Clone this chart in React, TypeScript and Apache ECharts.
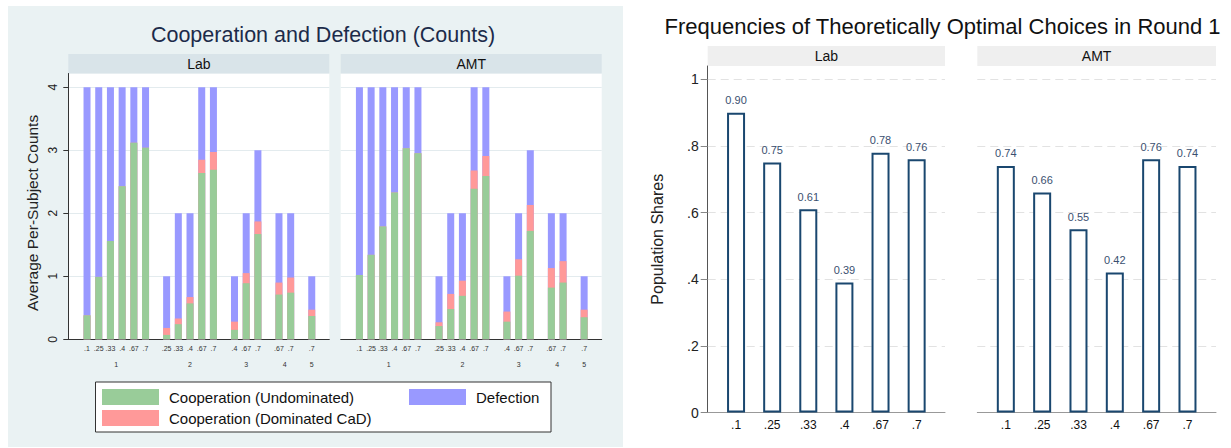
import React, { useEffect, useRef } from 'react';
import * as echarts from 'echarts';

// ---------- data: left chart (counts) ----------
const panelNames = ['Lab', 'AMT'];
const groupNames = ['1', '2', '3', '4', '5'];
const barGroups = [1, 1, 1, 1, 1, 1, 2, 2, 2, 2, 2, 3, 3, 3, 4, 4, 5];
const barLabels = ['.1', '.25', '.33', '.4', '.67', '.7', '.25', '.33', '.4', '.67', '.7', '.4', '.67', '.7', '.67', '.7', '.7'];

const labUndominated = [0.38, 0.99, 1.56, 2.43, 3.12, 3.04, 0.07, 0.24, 0.57, 2.64, 2.69, 0.15, 0.89, 1.67, 0.71, 0.74, 0.37];
const labDominated = [0, 0, 0, 0, 0, 0, 0.11, 0.09, 0.10, 0.21, 0.28, 0.13, 0.16, 0.20, 0.19, 0.24, 0.10];
const labDefection = [3.62, 3.01, 2.44, 1.57, 0.88, 0.96, 0.82, 1.67, 1.33, 1.15, 1.03, 0.72, 0.95, 1.13, 1.10, 1.02, 0.53];

const amtUndominated = [1.02, 1.34, 1.79, 2.33, 3.03, 2.95, 0.21, 0.48, 0.69, 2.39, 2.59, 0.28, 1.01, 1.72, 0.82, 0.90, 0.35];
const amtDominated = [0, 0, 0, 0, 0, 0, 0.06, 0.24, 0.24, 0.29, 0.32, 0.16, 0.26, 0.41, 0.31, 0.34, 0.12];
const amtDefection = [2.98, 2.66, 2.21, 1.67, 0.97, 1.05, 0.73, 1.28, 1.07, 1.32, 1.09, 0.56, 0.73, 0.87, 0.87, 0.76, 0.53];

const countTicks = [0, 1, 2, 3, 4];

// ---------- data: right chart (shares) ----------
const optimalCategories = ['.1', '.25', '.33', '.4', '.67', '.7'];
const labOptimalShares = [0.90, 0.75, 0.61, 0.39, 0.78, 0.76];
const amtOptimalShares = [0.74, 0.66, 0.55, 0.42, 0.76, 0.74];
const shareTicks = [0, 0.2, 0.4, 0.6, 0.8, 1];

const SERIES_UNDOM = 'Cooperation (Undominated)';
const SERIES_DOM = 'Cooperation (Dominated CaD)';
const SERIES_DEF = 'Defection';

const FONT = 'Liberation Sans, Arial, Helvetica, sans-serif';

function buildOption() {
  const groupGap = 0.8;
  const positions = barGroups.map((g, i) => Math.round((i + (g - 1) * groupGap) * 100) / 100);
  const groupCenters = groupNames.map((_, gi) => {
    const ps = positions.filter((_, i) => barGroups[i] === gi + 1);
    return Math.round(((ps[0] + ps[ps.length - 1]) / 2) * 100) / 100;
  });
  const labelAt = (v: number) => {
    const i = positions.findIndex((p) => Math.abs(p - v) < 1e-3);
    return i >= 0 ? barLabels[i] : '';
  };
  const groupAt = (v: number) => {
    const i = groupCenters.findIndex((p) => Math.abs(p - v) < 1e-3);
    return i >= 0 ? groupNames[i] : '';
  };

  const leftPanels = [
    { undom: labUndominated, dom: labDominated, def: labDefection, left: 68.3 },
    { undom: amtUndominated, dom: amtDominated, def: amtDefection, left: 340.7 },
  ];
  const rightPanels = [
    { shares: labOptimalShares, left: 707.7, width: 237.3 },
    { shares: amtOptimalShares, left: 977.3, width: 238.7 },
  ];

  const grid: any[] = [];
  const xAxis: any[] = [];
  const yAxis: any[] = [];
  const series: any[] = [];
  const graphic: any[] = [];

  graphic.push({
    type: 'rect', z: -100, silent: true,
    shape: { x: 8, y: 6, width: 615, height: 441 },
    style: { fill: '#eaf2f3' },
  });
  graphic.push({
    type: 'text', x: 323, y: 34.5, silent: true,
    style: { text: 'Cooperation and Defection (Counts)', fontSize: 21.5, fontFamily: FONT, fill: '#1c2b4a', align: 'center', verticalAlign: 'middle' },
  });
  graphic.push({
    type: 'text', x: 664.6, y: 26.7, silent: true,
    style: { text: 'Frequencies of Theoretically Optimal Choices in Round 1', fontSize: 22, fontFamily: FONT, fill: '#111', align: 'left', verticalAlign: 'middle' },
  });
  graphic.push({
    type: 'rect', silent: true, z: 1,
    shape: { x: 95.5, y: 382, width: 455.5, height: 50 },
    style: { fill: '#ffffff', stroke: '#333333', lineWidth: 1 },
  });

  leftPanels.forEach((p, k) => {
    const gi = grid.length;
    grid.push({ left: p.left, top: 73.5, width: 261, height: 265.8, show: true, backgroundColor: '#ffffff', borderWidth: 0, outerBoundsMode: 'none' });
    graphic.push({ type: 'rect', silent: true, shape: { x: p.left, y: 54, width: 261, height: 19.5 }, style: { fill: '#d9e4e9' } });
    graphic.push({ type: 'text', silent: true, x: p.left + 130.5, y: 64, style: { text: panelNames[k], fontSize: 14, fontFamily: FONT, fill: '#111', align: 'center', verticalAlign: 'middle' } });

    const xi = xAxis.length;
    xAxis.push({
      type: 'value', gridIndex: gi, position: 'bottom', min: -1.6, max: 20.7,
      axisLine: { show: true, onZero: false, lineStyle: { color: '#333', width: 1 } },
      axisTick: { show: false },
      splitLine: { show: false },
      axisLabel: { customValues: positions, formatter: (v: number) => labelAt(v), fontSize: 7, color: '#333', margin: 6, fontFamily: FONT },
    });
    xAxis.push({
      type: 'value', gridIndex: gi, position: 'bottom', min: -1.6, max: 20.7,
      axisLine: { show: false, onZero: false }, axisTick: { show: false }, splitLine: { show: false },
      axisLabel: { customValues: groupCenters, formatter: (v: number) => groupAt(v), fontSize: 7, color: '#333', margin: 22, fontFamily: FONT },
    });
    const yi = yAxis.length;
    yAxis.push({
      type: 'value', gridIndex: gi, min: 0, max: 4.217,
      axisLine: { show: k === 0, onZero: false, lineStyle: { color: '#333', width: 1 } },
      axisTick: { show: k === 0, length: 5, customValues: countTicks, lineStyle: { color: '#333' } },
      axisLabel: { show: k === 0, customValues: countTicks, rotate: 90, fontSize: 12, color: '#222', margin: 9, fontFamily: FONT },
      splitLine: { show: true, lineStyle: { color: '#e3ebee', width: 1 } },
      name: k === 0 ? 'Average Per-Subject Counts' : '',
      nameLocation: 'middle', nameGap: 28, nameRotate: 90,
      nameTextStyle: { fontSize: 15.5, color: '#222', fontFamily: FONT, padding: [0, 13, 0, 0] },
    });
    const totals = p.undom.map((u, i) => u + p.dom[i] + p.def[i]);
    const coop = p.undom.map((u, i) => u + p.dom[i]);
    const common = { type: 'bar', xAxisIndex: xi, yAxisIndex: yi, barWidth: 7, barGap: '-100%', silent: true };
    series.push({ ...common, name: SERIES_DEF, data: positions.map((x, i) => [x, totals[i]]), itemStyle: { color: '#9999ff' } });
    series.push({ ...common, name: SERIES_DOM, data: positions.map((x, i) => [x, coop[i]]), itemStyle: { color: '#ff9999' } });
    series.push({ ...common, name: SERIES_UNDOM, data: positions.map((x, i) => [x, p.undom[i]]), itemStyle: { color: '#99cc99' } });
  });

  rightPanels.forEach((p, k) => {
    const gi = grid.length;
    grid.push({ left: p.left, top: 66, width: p.width, height: 346.5, show: false, outerBoundsMode: 'none' });
    graphic.push({ type: 'rect', silent: true, shape: { x: p.left, y: 46, width: p.width, height: 20 }, style: { fill: '#efefef' } });
    graphic.push({ type: 'text', silent: true, x: p.left + p.width / 2, y: 56, style: { text: panelNames[k], fontSize: 14, fontFamily: FONT, fill: '#111', align: 'center', verticalAlign: 'middle' } });

    const xi = xAxis.length;
    xAxis.push({
      type: 'value', gridIndex: gi, position: 'bottom', min: -0.785, max: 5.785,
      axisLine: { show: true, onZero: false, lineStyle: { color: '#999', width: 1 } },
      axisTick: { show: false }, splitLine: { show: false },
      axisLabel: { customValues: optimalCategories.map((_, i) => i), formatter: (v: number) => optimalCategories[Math.round(v)] ?? '', fontSize: 12, color: '#111', margin: 6, fontFamily: FONT },
    });
    const yi = yAxis.length;
    yAxis.push({
      type: 'value', gridIndex: gi, min: 0, max: 1.04,
      axisLine: { show: k === 0, onZero: false, lineStyle: { color: '#555', width: 1 } },
      axisTick: { show: k === 0, length: 7, customValues: shareTicks, lineStyle: { color: '#888' } },
      axisLabel: {
        show: k === 0, customValues: shareTicks, fontSize: 14, color: '#222', margin: 9, fontFamily: FONT,
        formatter: (v: number) => String(+v.toFixed(1)).replace(/^0\./, '.'),
      },
      splitLine: { show: true, lineStyle: { color: '#e2e2e2', width: 1, type: [8, 5] } },
      name: k === 0 ? 'Population Shares' : '',
      nameLocation: 'middle', nameGap: 42, nameRotate: 90,
      nameTextStyle: { fontSize: 16, color: '#222', fontFamily: FONT },
    });
    series.push({
      type: 'bar', name: 'Share ' + panelNames[k], xAxisIndex: xi, yAxisIndex: yi, barWidth: 18, silent: true,
      data: p.shares.map((v, i) => [i, v]),
      itemStyle: { color: '#ffffff', borderColor: '#1a476f', borderWidth: 2 },
      label: {
        show: true, position: 'top', distance: 7, fontSize: 11, color: '#3a5070', fontFamily: FONT,
        formatter: (q: any) => Number(q.value[1]).toFixed(2),
      },
    });
  });

  const legendCommon = {
    padding: 0, icon: 'rect', itemWidth: 57, itemHeight: 16, itemGap: 5, selectedMode: false,
    textStyle: { fontSize: 15, color: '#111', fontFamily: FONT, padding: [0, 0, 0, 5] },
  };

  return {
    animation: false,
    backgroundColor: '#ffffff',
    textStyle: { fontFamily: FONT },
    grid, xAxis, yAxis, series, graphic,
    legend: [
      { ...legendCommon, orient: 'vertical', left: 102, top: 389, data: [SERIES_UNDOM, SERIES_DOM] },
      { ...legendCommon, orient: 'vertical', left: 409, top: 389, data: [SERIES_DEF] },
    ],
  };
}

export default function App() {
  const ref = useRef<HTMLDivElement>(null);
  useEffect(() => {
    if (!ref.current) return;
    const chart = echarts.init(ref.current, null, { renderer: 'svg' });
    chart.setOption(buildOption() as any);
    return () => chart.dispose();
  }, []);
  return <div ref={ref} style={{ position: 'absolute', left: 0, top: 0, width: 1231, height: 448 }} />;
}
